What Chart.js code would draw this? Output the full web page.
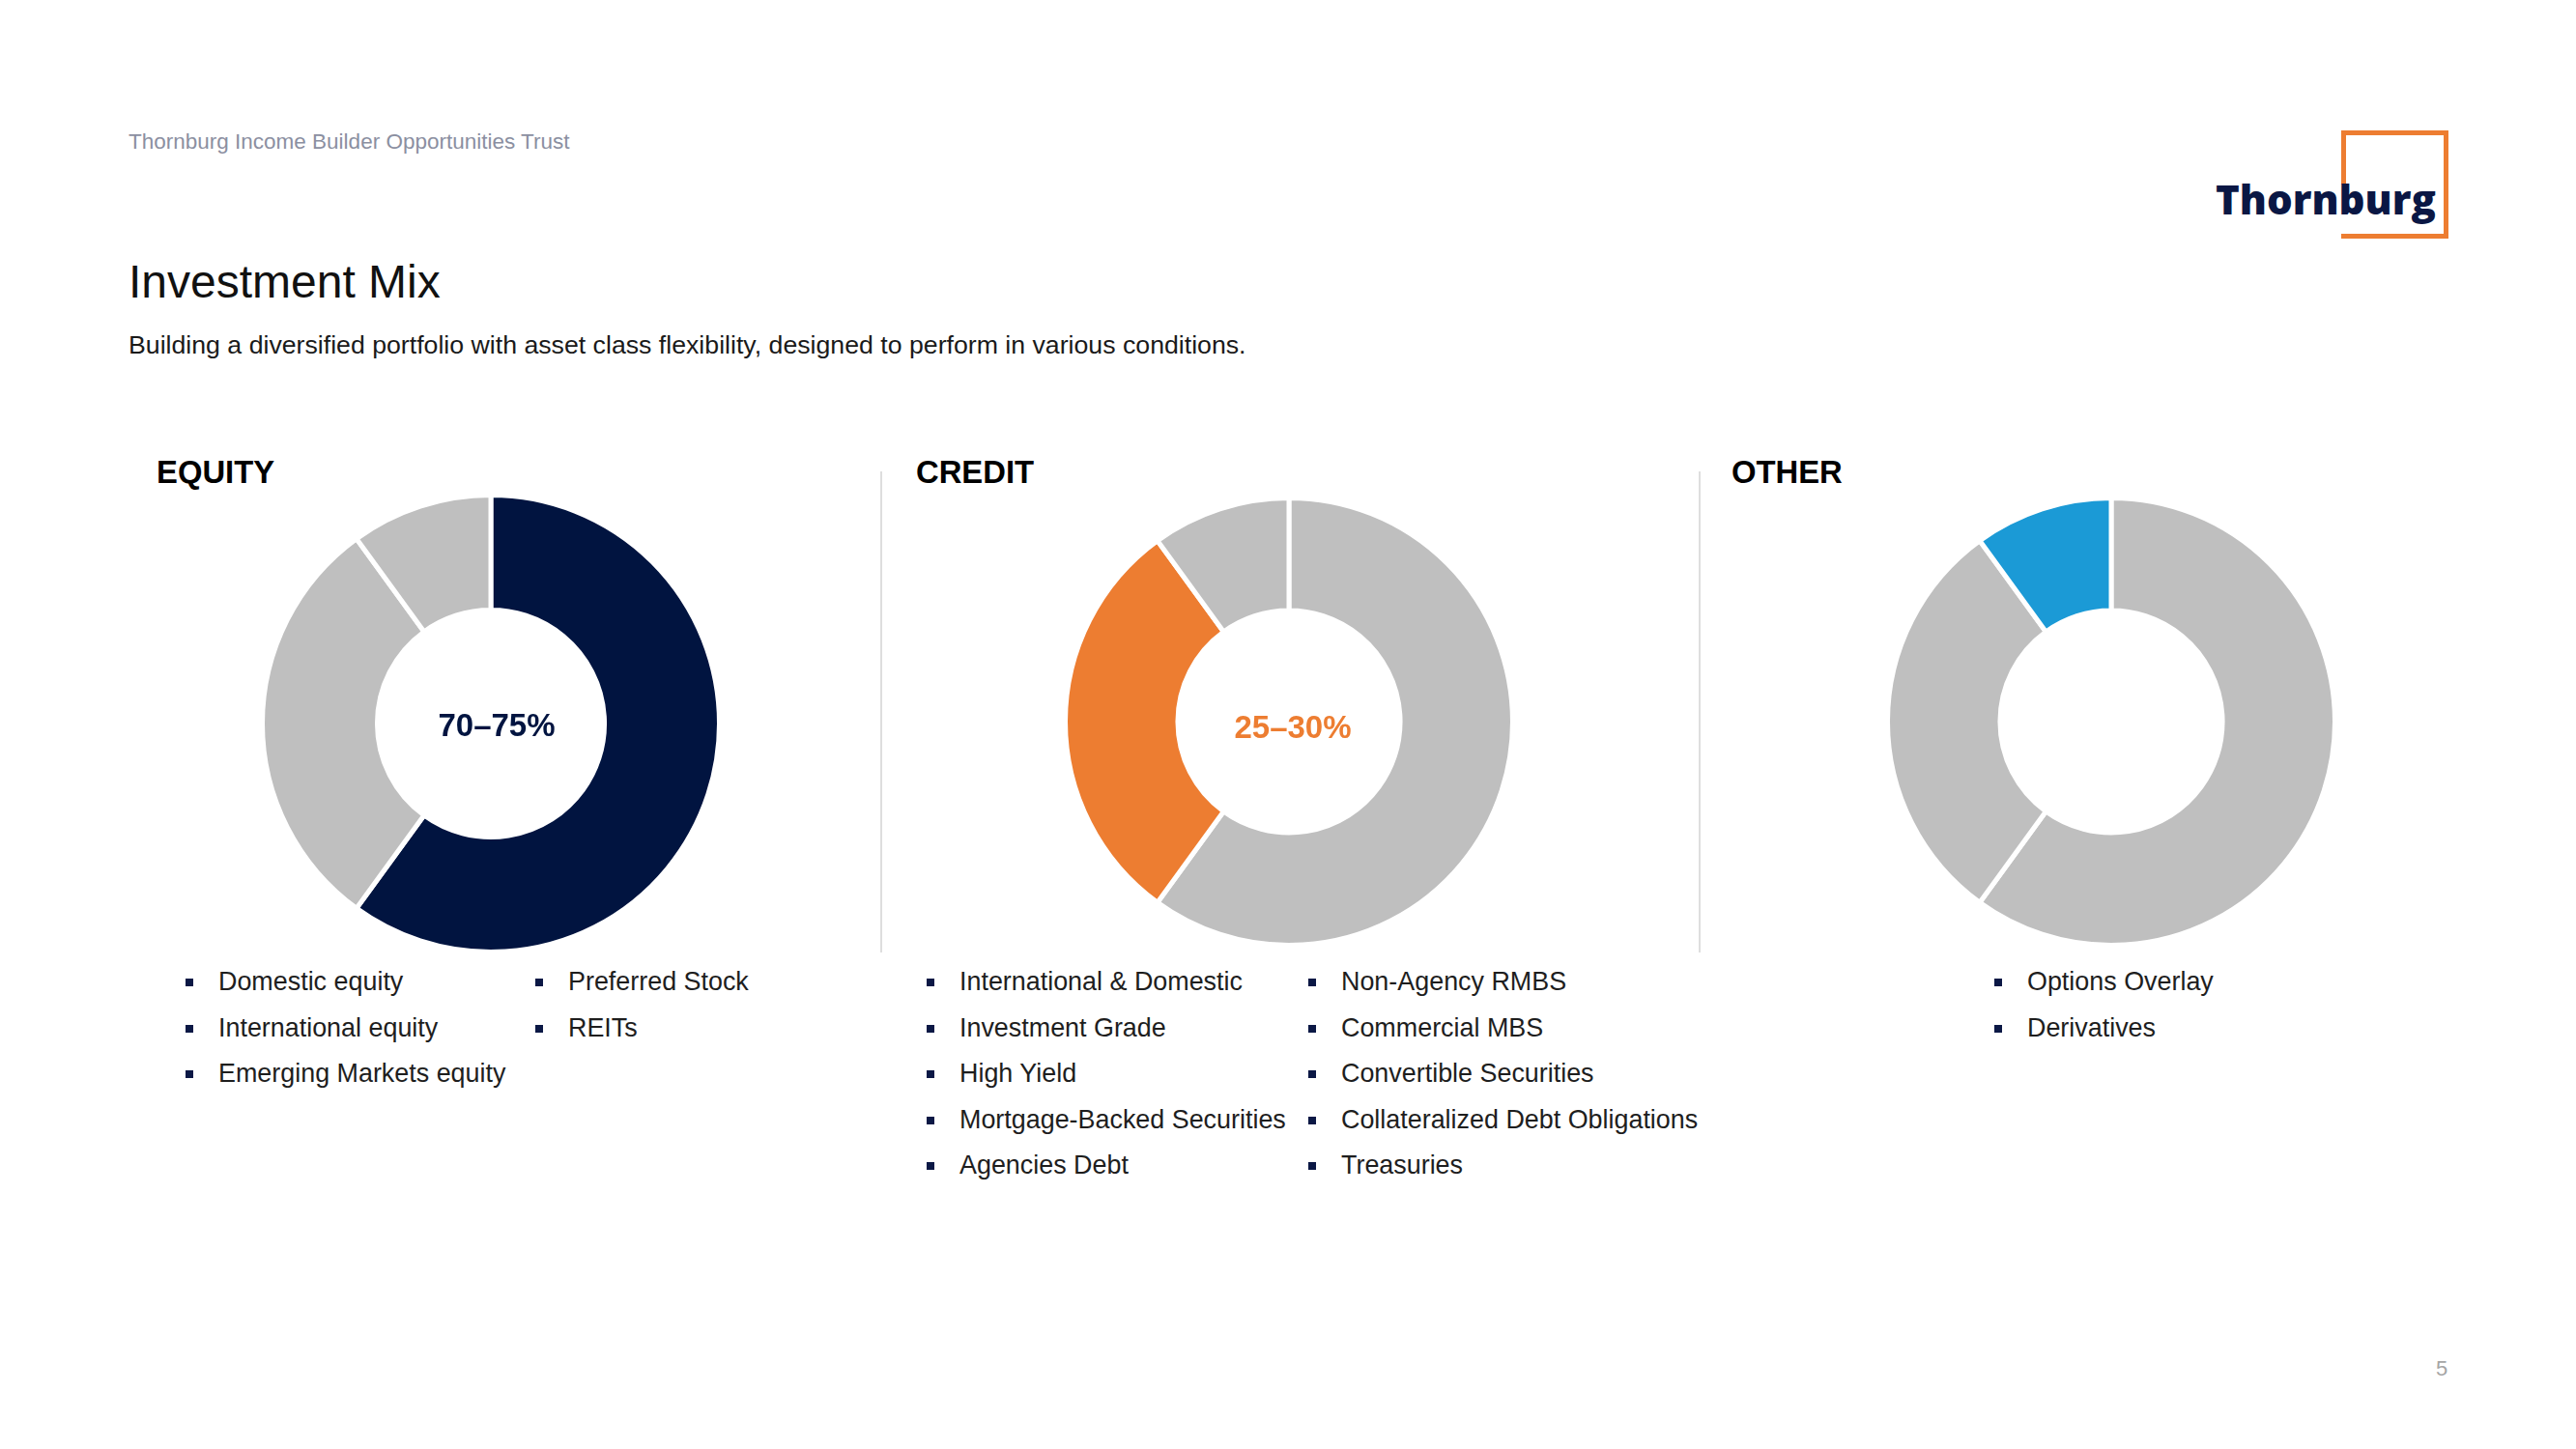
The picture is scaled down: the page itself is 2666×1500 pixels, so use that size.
<!DOCTYPE html>
<html>
<head>
<meta charset="utf-8">
<title>Investment Mix</title>
<script src="https://cdn.jsdelivr.net/npm/chart.js@4.4.1/dist/chart.umd.min.js"></script>
<style>
    html, body { margin: 0; padding: 0; background: #fff; }
    body { width: 2666px; height: 1500px; position: relative; overflow: hidden; font-family: "Liberation Sans", Arial, sans-serif; color: #1e1e1e; }
    .abs { position: absolute; white-space: nowrap; line-height: 1; }
    .trust { left: 133px; top: 136px; font-size: 22.5px; color: #8b8fa1; }
    .title { left: 133px; top: 268px; font-size: 48px; color: #111; }
    .tagline { left: 133px; top: 344px; font-size: 26.7px; color: #1a1a1a; }
    .section { top: 473px; font-size: 32.8px; font-weight: bold; color: #000; }
    .divider { position: absolute; top: 488px; width: 2px; height: 498px; background: #dedede; }
    .donut { position: absolute; }
    .center-label { position: absolute; font-size: 33px; font-weight: bold; line-height: 1; white-space: nowrap; transform: translateX(-50%); }
    ul.items { position: absolute; top: 993px; margin: 0; padding: 0; list-style: none; }
    ul.items li { position: relative; padding-left: 34px; font-size: 26.9px; line-height: 47.5px; white-space: nowrap; color: #1e1e1e; }
    ul.items li::before { content: ''; position: absolute; left: 0; top: 20px; width: 8px; height: 8px; background: #0b1845; }
    .logo-text { position: absolute; left: 2293px; top: 185px; font-family: "Open Sans", sans-serif; font-weight: 800; font-size: 42px; line-height: 1; color: #0a1744; white-space: nowrap; }
    .bar { position: absolute; background: #ed7d31; }
    .page { left: 2521px; top: 1406px; font-size: 22px; color: #a5a5a5; }
</style>
</head>
<body>
<div class="abs trust">Thornburg Income Builder Opportunities Trust</div>
<div class="abs title">Investment Mix</div>
<div class="abs tagline">Building a diversified portfolio with asset class flexibility, designed to perform in various conditions.</div>

<!-- logo -->
<div class="bar" style="left:2423px; top:135px; width:111px; height:5px;"></div>
<div class="bar" style="left:2529px; top:135px; width:5px; height:112px;"></div>
<div class="bar" style="left:2423px; top:242px; width:111px; height:5px;"></div>
<div class="bar" style="left:2423px; top:135px; width:5px; height:56px;"></div>
<div class="logo-text">Thornburg</div>

<div class="abs section" style="left:162px;">EQUITY</div>
<div class="abs section" style="left:948px;">CREDIT</div>
<div class="abs section" style="left:1792px;">OTHER</div>
<div class="divider" style="left:911px;"></div>
<div class="divider" style="left:1758px;"></div>

<div class="donut" style="left:269px; top:510px;"><canvas id="chart-equity" width="478" height="478"></canvas></div>
<div class="donut" style="left:1100px; top:513px;"><canvas id="chart-credit" width="468" height="468"></canvas></div>
<div class="donut" style="left:1951px; top:513px;"><canvas id="chart-other" width="468" height="468"></canvas></div>

<div class="center-label" id="label-equity" style="left:514px; top:734px;"></div>
<div class="center-label" id="label-credit" style="left:1338px; top:736px;"></div>

<ul class="items" id="equity-col1" style="left:192px;"></ul>
<ul class="items" id="equity-col2" style="left:554px;"></ul>
<ul class="items" id="credit-col1" style="left:959px;"></ul>
<ul class="items" id="credit-col2" style="left:1354px;"></ul>
<ul class="items" id="other-col1" style="left:2064px;"></ul>

<div class="abs page">5</div>

<script>
    // --- Data ---
    const sleeves = ['Equity', 'Credit', 'Other'];
    const allocation = [60, 30, 10];
    const rangeLabels = ['70–75%', '25–30%', ''];
    const sleeveColors = ['#011440', '#ed7d31', '#1b9ad6'];
    const mutedColor = '#bfbfbf';

    const equityCol1 = ['Domestic equity', 'International equity', 'Emerging Markets equity'];
    const equityCol2 = ['Preferred Stock', 'REITs'];
    const creditCol1 = ['International & Domestic', 'Investment Grade', 'High Yield', 'Mortgage-Backed Securities', 'Agencies Debt'];
    const creditCol2 = ['Non-Agency RMBS', 'Commercial MBS', 'Convertible Securities', 'Collateralized Debt Obligations', 'Treasuries'];
    const otherCol1 = ['Options Overlay', 'Derivatives'];

    // --- Donuts ---
    function makeDonut(canvasId, highlight) {
        const colors = sleeves.map((s, i) => i === highlight ? sleeveColors[i] : mutedColor);
        return new Chart(document.getElementById(canvasId), {
            type: 'doughnut',
            data: {
                labels: sleeves,
                datasets: [{
                    data: allocation,
                    backgroundColor: colors,
                    hoverBackgroundColor: colors,
                    borderColor: '#ffffff',
                    hoverBorderColor: '#ffffff',
                    borderWidth: 5,
                    hoverBorderWidth: 5,
                    offset: 0,
                    hoverOffset: 0
                }]
            },
            options: {
                responsive: false,
                animation: false,
                cutout: '49.7%',
                rotation: 0,
                layout: { padding: 0 },
                events: [],
                plugins: { legend: { display: false }, tooltip: { enabled: false } }
            }
        });
    }

    makeDonut('chart-equity', 0);
    makeDonut('chart-credit', 1);
    makeDonut('chart-other', 2);

    // --- Centre labels ---
    const labelEquity = document.getElementById('label-equity');
    labelEquity.textContent = rangeLabels[0];
    labelEquity.style.color = sleeveColors[0];
    const labelCredit = document.getElementById('label-credit');
    labelCredit.textContent = rangeLabels[1];
    labelCredit.style.color = sleeveColors[1];

    // --- Bullet lists ---
    function fillList(id, items) {
        const ul = document.getElementById(id);
        items.forEach(t => {
            const li = document.createElement('li');
            li.textContent = t;
            ul.appendChild(li);
        });
    }
    fillList('equity-col1', equityCol1);
    fillList('equity-col2', equityCol2);
    fillList('credit-col1', creditCol1);
    fillList('credit-col2', creditCol2);
    fillList('other-col1', otherCol1);
</script>
</body>
</html>
